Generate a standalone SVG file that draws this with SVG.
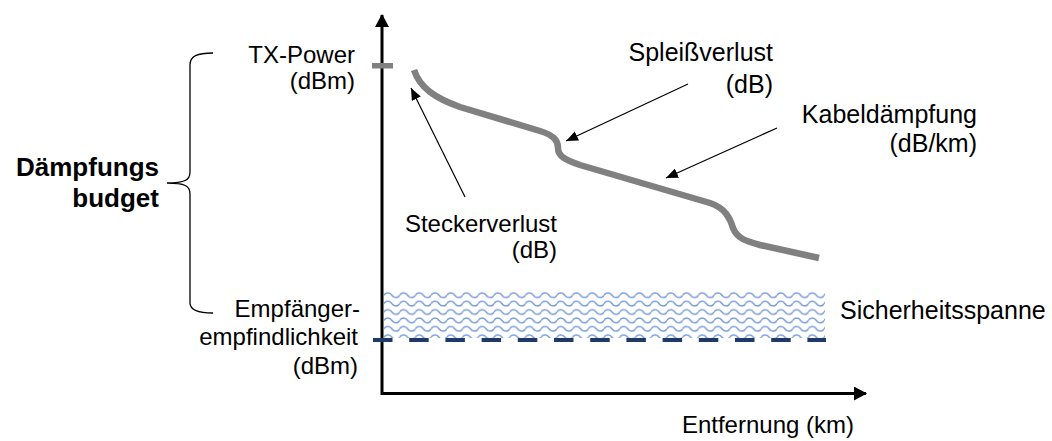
<svg xmlns="http://www.w3.org/2000/svg" width="1052" height="441" viewBox="0 0 1052 441">
<style>
text{font-family:"Liberation Sans",Arial,sans-serif;font-size:24px;fill:#000}
.b{font-weight:bold;font-size:26px}
.end{text-anchor:end}
.lead{stroke:#000;stroke-width:1.2;fill:none}
.axis{stroke:#000;stroke-width:3;fill:none}
</style>
<defs>
<pattern id="wave" patternUnits="userSpaceOnUse" x="384" y="291" width="15.72" height="8.4">
<path d="M-0.1,4.2 C1.9,1 5.86,1 7.86,4.2 C9.86,7.4 13.82,7.4 15.82,4.2" fill="none" stroke="#7399d8" stroke-width="1.4"/>
</pattern>
<marker id="ah" viewBox="0 0 12 10" refX="12" refY="5" markerWidth="12" markerHeight="10" markerUnits="userSpaceOnUse" orient="auto">
<path d="M0,0 L12,5 L0,10 Z" fill="#000"/>
</marker>
<marker id="axh" viewBox="0 0 13 14" refX="12" refY="7" markerWidth="13" markerHeight="14" markerUnits="userSpaceOnUse" orient="auto">
<path d="M0,0 L13,7 L0,14 Z" fill="#000"/>
</marker>
</defs>

<g id="margin">
<rect x="384" y="291" width="441" height="47" fill="url(#wave)"/>
</g>

<g id="axes">
<line class="axis" x1="382" y1="395" x2="382" y2="15" marker-end="url(#axh)"/>
<line class="axis" x1="381" y1="393.5" x2="866" y2="393.5" marker-end="url(#axh)"/>
</g>

<g id="tx-tick"><rect x="372" y="63" width="21" height="5.5" fill="#808080"/></g>
<g id="rx-line"><line x1="373" y1="340" x2="826" y2="340" stroke="#1f3a68" stroke-width="4" stroke-dasharray="19.5 16.7"/></g>

<g id="curve">
<path d="M414,70 C420,88 435,98 460,107 L540,131 C556,136 558,142 558,148 C558,156 565,160 580,165 L710,203 C725,208 730,218 733,228 C737,238 745,241 760,245 L819,258" fill="none" stroke="#808080" stroke-width="6.5"/>
</g>

<g id="brace">
<path d="M213,53 C197,53 190,56 190,65 L190,172 C190,180 185,183 167,183 C185,183 190,186 190,194 L190,303 C190,310 197,313 213,313" fill="none" stroke="#000" stroke-width="1.3"/>
</g>

<g id="connectors">
<line class="lead" x1="465" y1="197" x2="411" y2="88" marker-end="url(#ah)"/>
<line class="lead" x1="688" y1="84" x2="566" y2="141" marker-end="url(#ah)"/>
<line class="lead" x1="777" y1="128" x2="666" y2="178" marker-end="url(#ah)"/>
</g>

<g id="budget-label">
<text class="b end" x="159" y="176">Dämpfungs</text>
<text class="b end" x="159" y="207">budget</text>
</g>
<g id="tx-label">
<text class="end" x="355" y="63">TX-Power</text>
<text class="end" x="355" y="89">(dBm)</text>
</g>
<g id="rx-label">
<text class="end" x="360" y="317">Empfänger-</text>
<text class="end" x="358" y="345">empfindlichkeit</text>
<text class="end" x="358" y="374">(dBm)</text>
</g>
<g id="splice-label">
<text class="end" x="773" y="61" style="font-size:25px">Spleißverlust</text>
<text class="end" x="773" y="93" style="font-size:25px">(dB)</text>
</g>
<g id="cable-label">
<text class="end" x="977" y="123" style="font-size:25px">Kabeldämpfung</text>
<text class="end" x="977" y="152" style="font-size:25px">(dB/km)</text>
</g>
<g id="connector-label">
<text class="end" x="557" y="232">Steckerverlust</text>
<text class="end" x="557" y="258">(dB)</text>
</g>
<g id="margin-label"><text x="840" y="319" style="font-size:25px">Sicherheitsspanne</text></g>
<g id="x-label"><text class="end" x="854" y="433">Entfernung (km)</text></g>
</svg>
